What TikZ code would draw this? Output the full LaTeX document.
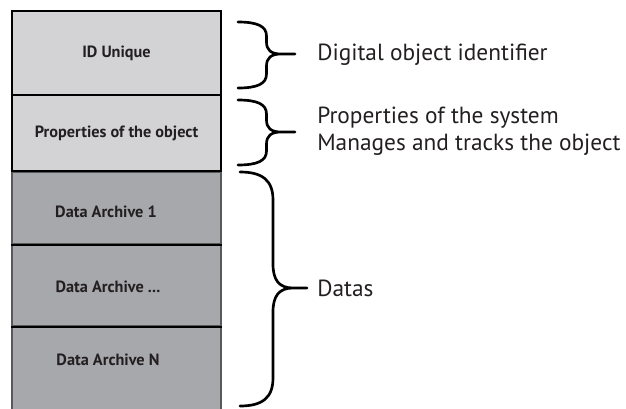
\documentclass[tikz,border=0pt]{standalone}
\usepackage{fontspec}
\setmainfont{PT Sans}
\definecolor{boxlight}{RGB}{211,211,213}
\definecolor{boxdark}{RGB}{167,168,171}
\definecolor{edgegray}{RGB}{88,89,91}
\definecolor{inkdark}{RGB}{35,31,32}

\begin{document}
\begin{tikzpicture}[x=0.75pt,y=0.75pt,yscale=-1,xscale=1,
  topbox/.style={draw=black,line width=1.5pt,fill=boxlight,minimum width=156.75pt,inner sep=0pt,
    text=inkdark,font=\bfseries\fontsize{12.2}{14}\selectfont},
  databox/.style={draw=edgegray,line width=1.2pt,fill=boxdark,minimum width=156.75pt,inner sep=0pt},
  datalabel/.style={text=inkdark,inner sep=0.75pt,font=\bfseries\fontsize{12.2}{14}\selectfont},
  sideline/.style={text=inkdark,inner sep=0.75pt,anchor=west,align=left,font=\fontsize{17.5}{20.5}\selectfont},
  curly/.style={draw=black,line width=2pt,line join=round,line cap=round}]
\useasboundingbox (0,0) rectangle (626,408);

%Shape: Rectangle [data archives]
\node [databox,minimum height=54pt] (arch1) at (116.5,208) {};
\node [databox,minimum height=61.5pt] (archdots) at (116.5,285) {};
\node [databox,minimum height=63pt] (archN) at (116.5,368) {};
%Shape: Rectangle [object header]
\node [topbox,minimum height=63pt] (idbox) at (116.5,53) {ID Unique};
\node [topbox,minimum height=57pt] (propbox) at (116.5,133) {\raisebox{2.5pt}{Properties of the object}};
%Straight Lines [separators]
\draw [line width=1.5pt] (arch1.south west) -- (arch1.south east) ;
\draw [line width=1.5pt] (archdots.south west) -- (archdots.south east) ;

% Text Node
\node [datalabel] (lbl1) at (106,212) {Data Archive 1};
% Text Node
\node [datalabel] (lbldots) at (108,287) {Data Archive ...};
% Text Node
\node [datalabel] (lblN) at (108,360) {Data Archive N};

%Shape: Brace [id]
\draw [curly] (238,22) .. controls (257,22) and (266.5,26) .. (266.5,36) -- (266.5,42) .. controls (266.5,50) and (271,54) .. (281,54) -- (295,54) -- (281,54) .. controls (271,54) and (266.5,58) .. (266.5,66) -- (266.5,74) .. controls (266.5,84) and (257,88) .. (238,88) ;
%Shape: Brace [properties]
\draw [curly] (238,100) .. controls (257,100) and (266.5,104) .. (266.5,114) -- (266.5,120) .. controls (266.5,128) and (271,132) .. (281,132) -- (295,132) -- (281,132) .. controls (271,132) and (266.5,136) .. (266.5,144) -- (266.5,151) .. controls (266.5,161) and (257,165) .. (238,165) ;
%Shape: Brace [datas]
\draw [curly] (240,172) .. controls (262,172) and (273,180) .. (273,200) -- (273,264) .. controls (273,280) and (279,288) .. (293,288) -- (307,288) -- (293,288) .. controls (279,288) and (273,296) .. (273,312) -- (273,378) .. controls (273,398) and (262,406) .. (240,406) ;

% Text Node
\node [sideline] (doi) at (316,55) {Digital object identifier};
% Text Node
\node [sideline] (props) at (316,131) {Properties of the system\\Manages and tracks the object};
% Text Node
\node [sideline] (datas) at (316,288) {Datas};

\end{tikzpicture}
\end{document}
